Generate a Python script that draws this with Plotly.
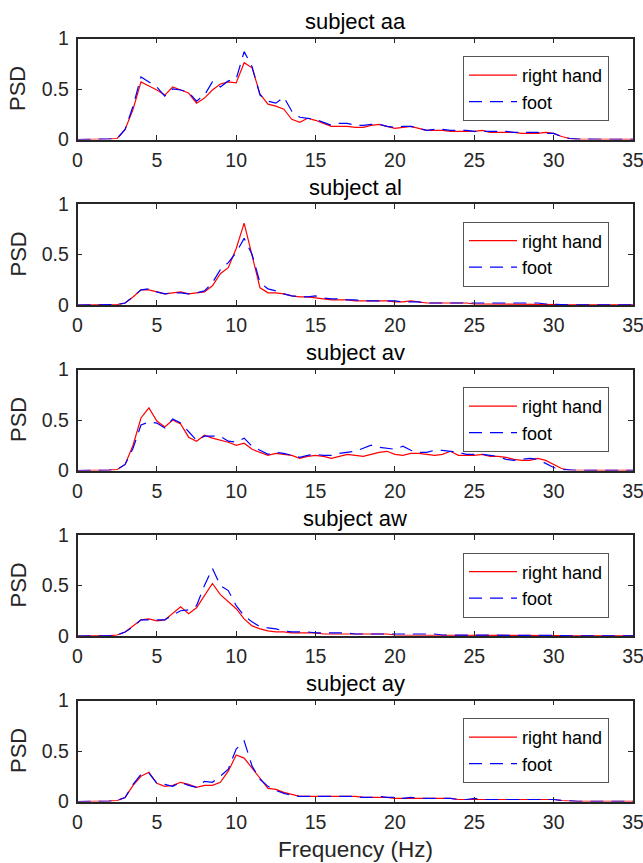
import plotly.graph_objects as go

freq = [0, 0.5, 1, 1.5, 2, 2.5, 3, 3.5, 4, 4.5, 5, 5.5, 6, 6.5, 7, 7.5, 8, 8.5, 9, 9.5,
        10, 10.5, 11, 11.5, 12, 12.5, 13, 13.5, 14, 14.5, 15, 15.5, 16, 16.5, 17, 17.5,
        18, 18.5, 19, 19.5, 20, 20.5, 21, 21.5, 22, 22.5, 23, 23.5, 24, 24.5, 25, 25.5,
        26, 26.5, 27, 27.5, 28, 28.5, 29, 29.5, 30, 30.5, 31, 31.5, 32, 32.5, 33, 33.5,
        34, 34.5, 35]

subjects = ["subject aa", "subject al", "subject av", "subject aw", "subject ay"]

aa_right = [0, 0, 0.002, 0.003, 0.005, 0.01, 0.10, 0.30, 0.57, 0.53, 0.49, 0.44, 0.52, 0.49,
            0.46, 0.36, 0.41, 0.49, 0.55, 0.57, 0.56, 0.76, 0.71, 0.45, 0.35, 0.33, 0.30, 0.20,
            0.17, 0.21, 0.19, 0.16, 0.13, 0.13, 0.13, 0.12, 0.12, 0.14, 0.15, 0.13, 0.11, 0.12,
            0.13, 0.11, 0.09, 0.09, 0.09, 0.08, 0.08, 0.08, 0.08, 0.09, 0.07, 0.07, 0.07, 0.07,
            0.06, 0.06, 0.06, 0.07, 0.06, 0.03, 0.01, 0.003, 0.002, 0.002, 0.002, 0.002, 0.002,
            0.002, 0.002]
aa_foot = [0, 0, 0.002, 0.003, 0.005, 0.01, 0.10, 0.33, 0.62, 0.57, 0.52, 0.43, 0.50, 0.49,
           0.47, 0.38, 0.44, 0.57, 0.52, 0.58, 0.60, 0.87, 0.72, 0.44, 0.38, 0.36, 0.42, 0.28,
           0.22, 0.21, 0.20, 0.17, 0.14, 0.16, 0.16, 0.14, 0.14, 0.15, 0.15, 0.13, 0.12, 0.13,
           0.13, 0.11, 0.09, 0.10, 0.10, 0.09, 0.09, 0.09, 0.08, 0.08, 0.08, 0.08, 0.08, 0.07,
           0.07, 0.07, 0.07, 0.06, 0.06, 0.03, 0.01, 0.003, 0.002, 0.002, 0.002, 0.002, 0.002,
           0.002, 0.002]

al_right = [0, 0, 0, 0.002, 0.003, 0.005, 0.02, 0.08, 0.15, 0.15, 0.13, 0.11, 0.12, 0.13,
            0.11, 0.12, 0.13, 0.19, 0.31, 0.37, 0.56, 0.81, 0.50, 0.17, 0.12, 0.12, 0.11, 0.09,
            0.08, 0.08, 0.07, 0.06, 0.05, 0.05, 0.05, 0.04, 0.04, 0.04, 0.04, 0.04, 0.03, 0.03,
            0.04, 0.03, 0.02, 0.02, 0.02, 0.02, 0.02, 0.02, 0.01, 0.01, 0.01, 0.01, 0.01, 0.01,
            0.01, 0.01, 0.01, 0.01, 0.01, 0.005, 0.002, 0.001, 0.001, 0.001, 0.001, 0.001, 0.001,
            0.001, 0.001]
al_foot = [0, 0, 0, 0.002, 0.003, 0.005, 0.02, 0.08, 0.15, 0.16, 0.13, 0.11, 0.12, 0.12,
           0.11, 0.12, 0.14, 0.22, 0.35, 0.42, 0.52, 0.66, 0.50, 0.22, 0.16, 0.14, 0.11, 0.09,
           0.08, 0.08, 0.09, 0.07, 0.06, 0.06, 0.05, 0.05, 0.04, 0.04, 0.04, 0.04, 0.04, 0.03,
           0.03, 0.03, 0.02, 0.02, 0.02, 0.02, 0.02, 0.02, 0.02, 0.02, 0.02, 0.02, 0.02, 0.02,
           0.02, 0.02, 0.02, 0.01, 0.01, 0.005, 0.002, 0.001, 0.001, 0.001, 0.001, 0.001, 0.001,
           0.001, 0.001]

av_right = [0, 0, 0, 0.002, 0.003, 0.01, 0.06, 0.25, 0.52, 0.62, 0.49, 0.43, 0.50, 0.46,
            0.33, 0.29, 0.35, 0.32, 0.30, 0.28, 0.25, 0.27, 0.21, 0.18, 0.15, 0.17, 0.16, 0.15,
            0.12, 0.14, 0.15, 0.14, 0.12, 0.14, 0.16, 0.15, 0.14, 0.16, 0.18, 0.19, 0.16, 0.15,
            0.17, 0.17, 0.16, 0.15, 0.16, 0.19, 0.15, 0.15, 0.15, 0.16, 0.14, 0.14, 0.13, 0.11,
            0.10, 0.10, 0.12, 0.10, 0.06, 0.02, 0.005, 0.002, 0.002, 0.002, 0.002, 0.002, 0.002,
            0.002, 0.002]
av_foot = [0, 0, 0, 0.002, 0.003, 0.01, 0.06, 0.22, 0.45, 0.48, 0.47, 0.42, 0.51, 0.47,
           0.38, 0.30, 0.34, 0.34, 0.34, 0.29, 0.28, 0.32, 0.24, 0.20, 0.16, 0.18, 0.17, 0.15,
           0.13, 0.15, 0.16, 0.15, 0.15, 0.17, 0.18, 0.19, 0.22, 0.25, 0.23, 0.22, 0.21, 0.24,
           0.20, 0.18, 0.18, 0.20, 0.20, 0.19, 0.18, 0.16, 0.16, 0.16, 0.15, 0.14, 0.11, 0.10,
           0.11, 0.12, 0.11, 0.07, 0.03, 0.01, 0.003, 0.002, 0.002, 0.002, 0.002, 0.002, 0.002,
           0.002, 0.002]

aw_right = [0, 0, 0, 0.002, 0.003, 0.01, 0.04, 0.10, 0.16, 0.17, 0.15, 0.16, 0.23, 0.29,
            0.22, 0.28, 0.40, 0.52, 0.41, 0.34, 0.27, 0.17, 0.10, 0.07, 0.05, 0.04, 0.04, 0.03,
            0.03, 0.03, 0.03, 0.02, 0.02, 0.02, 0.02, 0.02, 0.02, 0.02, 0.02, 0.02, 0.01, 0.01,
            0.01, 0.01, 0.01, 0.01, 0.01, 0.01, 0.01, 0.01, 0.01, 0.01, 0.01, 0.01, 0.01, 0.01,
            0.01, 0.01, 0.01, 0.01, 0.01, 0.005, 0.002, 0.001, 0.001, 0.001, 0.001, 0.001, 0.001,
            0.001, 0.001]
aw_foot = [0, 0, 0, 0.002, 0.003, 0.01, 0.04, 0.09, 0.16, 0.16, 0.16, 0.16, 0.21, 0.25,
           0.26, 0.30, 0.50, 0.67, 0.50, 0.45, 0.30, 0.20, 0.14, 0.09, 0.08, 0.07, 0.05, 0.04,
           0.04, 0.04, 0.03, 0.03, 0.03, 0.03, 0.03, 0.02, 0.02, 0.02, 0.02, 0.02, 0.02, 0.02,
           0.02, 0.02, 0.02, 0.02, 0.01, 0.01, 0.01, 0.01, 0.01, 0.01, 0.01, 0.01, 0.01, 0.01,
           0.01, 0.01, 0.01, 0.01, 0.01, 0.005, 0.002, 0.001, 0.001, 0.001, 0.001, 0.001, 0.001,
           0.001, 0.001]

ay_right = [0, 0, 0, 0.002, 0.003, 0.01, 0.04, 0.16, 0.25, 0.29, 0.18, 0.15, 0.16, 0.19,
            0.17, 0.14, 0.16, 0.16, 0.19, 0.30, 0.46, 0.43, 0.33, 0.23, 0.13, 0.12, 0.09, 0.07,
            0.05, 0.05, 0.05, 0.05, 0.05, 0.05, 0.05, 0.05, 0.04, 0.04, 0.04, 0.04, 0.03, 0.03,
            0.03, 0.03, 0.03, 0.03, 0.03, 0.03, 0.02, 0.02, 0.02, 0.02, 0.02, 0.02, 0.02, 0.02,
            0.02, 0.02, 0.02, 0.02, 0.02, 0.01, 0.003, 0.001, 0.001, 0.001, 0.001, 0.001, 0.001,
            0.001, 0.001]
ay_foot = [0, 0, 0, 0.002, 0.003, 0.01, 0.04, 0.17, 0.27, 0.28, 0.18, 0.17, 0.15, 0.19,
           0.16, 0.14, 0.20, 0.19, 0.25, 0.32, 0.52, 0.60, 0.35, 0.22, 0.15, 0.11, 0.08, 0.06,
           0.05, 0.05, 0.05, 0.05, 0.05, 0.05, 0.05, 0.05, 0.04, 0.04, 0.05, 0.04, 0.04, 0.03,
           0.04, 0.03, 0.03, 0.03, 0.03, 0.03, 0.02, 0.02, 0.03, 0.02, 0.02, 0.02, 0.02, 0.02,
           0.02, 0.02, 0.02, 0.02, 0.02, 0.01, 0.003, 0.001, 0.001, 0.001, 0.001, 0.001, 0.001,
           0.001, 0.001]

right_series = [aa_right, al_right, av_right, aw_right, ay_right]
foot_series = [aa_foot, al_foot, av_foot, aw_foot, ay_foot]
series_names = ["right hand", "foot"]
x_ticks = [0, 5, 10, 15, 20, 25, 30, 35]
y_ticks = [0, 0.5, 1]
y_tick_text = ["0", "0.5", "1"]

W, H = 643, 863
X0, X1 = 77.5, 633.0
TOP0, HGT, STEP = 38.5, 101.0, 165.5
AX = "#262626"
FONT = "Arial, Liberation Sans, sans-serif"

fig = go.Figure()
layout = dict(
    width=W, height=H, autosize=False,
    margin=dict(l=0, r=0, t=0, b=0, autoexpand=False),
    paper_bgcolor="white", plot_bgcolor="white",
    font=dict(family=FONT, color=AX, size=19),
    annotations=[],
)

for k in range(5):
    top = TOP0 + STEP * k
    bot = top + HGT
    xa = "x" if k == 0 else f"x{k+1}"
    ya = "y" if k == 0 else f"y{k+1}"
    lg = "legend" if k == 0 else f"legend{k+1}"
    fig.add_trace(go.Scatter(x=freq, y=right_series[k], mode="lines", name=series_names[0],
                             line=dict(color="#ff0000", width=1.2),
                             xaxis=xa, yaxis=ya, legend=lg))
    fig.add_trace(go.Scatter(x=freq, y=foot_series[k], mode="lines", name=series_names[1],
                             line=dict(color="#0000ff", width=1.2, dash="13px,8px"),
                             xaxis=xa, yaxis=ya, legend=lg))
    axkey = "xaxis" if k == 0 else f"xaxis{k+1}"
    aykey = "yaxis" if k == 0 else f"yaxis{k+1}"
    layout[axkey] = dict(
        domain=[X0 / W, X1 / W], anchor=ya, range=[0, 35], tickvals=x_ticks,
        showline=True, mirror="ticks", linecolor=AX, linewidth=1.5,
        ticks="inside", ticklen=5, tickwidth=1.3, tickcolor=AX, automargin=False,
        ticklabeloverflow="allow", ticklabelstandoff=2,
        showgrid=False, zeroline=False, tickfont=dict(size=19.5, color=AX, family=FONT),
    )
    layout[aykey] = dict(
        domain=[1 - bot / H, 1 - top / H], anchor=xa, range=[0, 1],
        tickvals=y_ticks, ticktext=y_tick_text, automargin=False,
        ticklabeloverflow="allow", ticklabelstandoff=3,
        showline=True, mirror="ticks", linecolor=AX, linewidth=1.5,
        ticks="inside", ticklen=5, tickwidth=1.3, tickcolor=AX,
        showgrid=False, zeroline=False, tickfont=dict(size=19.5, color=AX, family=FONT),
    )
    layout[lg] = dict(
        x=463 / W, y=1 - (top + 17.5) / H, xanchor="left", yanchor="top",
        bgcolor="white", bordercolor="#555555", borderwidth=1,
        font=dict(size=18, color="#000000", family=FONT), itemwidth=48,
    )
    layout["annotations"].append(dict(
        text=subjects[k], x=(X0 + X1) / 2 / W, y=1 - (top - 17) / H,
        xref="paper", yref="paper", xanchor="center", yanchor="middle", showarrow=False,
        font=dict(size=22, color="#000000", family=FONT)))
    layout["annotations"].append(dict(
        text="PSD", x=18 / W, y=1 - (top + HGT / 2) / H, textangle=-90,
        xref="paper", yref="paper", xanchor="center", yanchor="middle", showarrow=False,
        font=dict(size=22, color=AX, family=FONT)))

layout["annotations"].append(dict(
    text="Frequency (Hz)", x=(X0 + X1) / 2 / W, y=1 - 849 / H,
    xref="paper", yref="paper", xanchor="center", yanchor="middle", showarrow=False,
    font=dict(size=22.5, color=AX, family=FONT)))

fig.update_layout(**layout)
fig.write_html(
    "out.html",
    config={"displayModeBar": False},
    post_script="document.body.style.margin='0';document.body.style.overflow='hidden';",
)
